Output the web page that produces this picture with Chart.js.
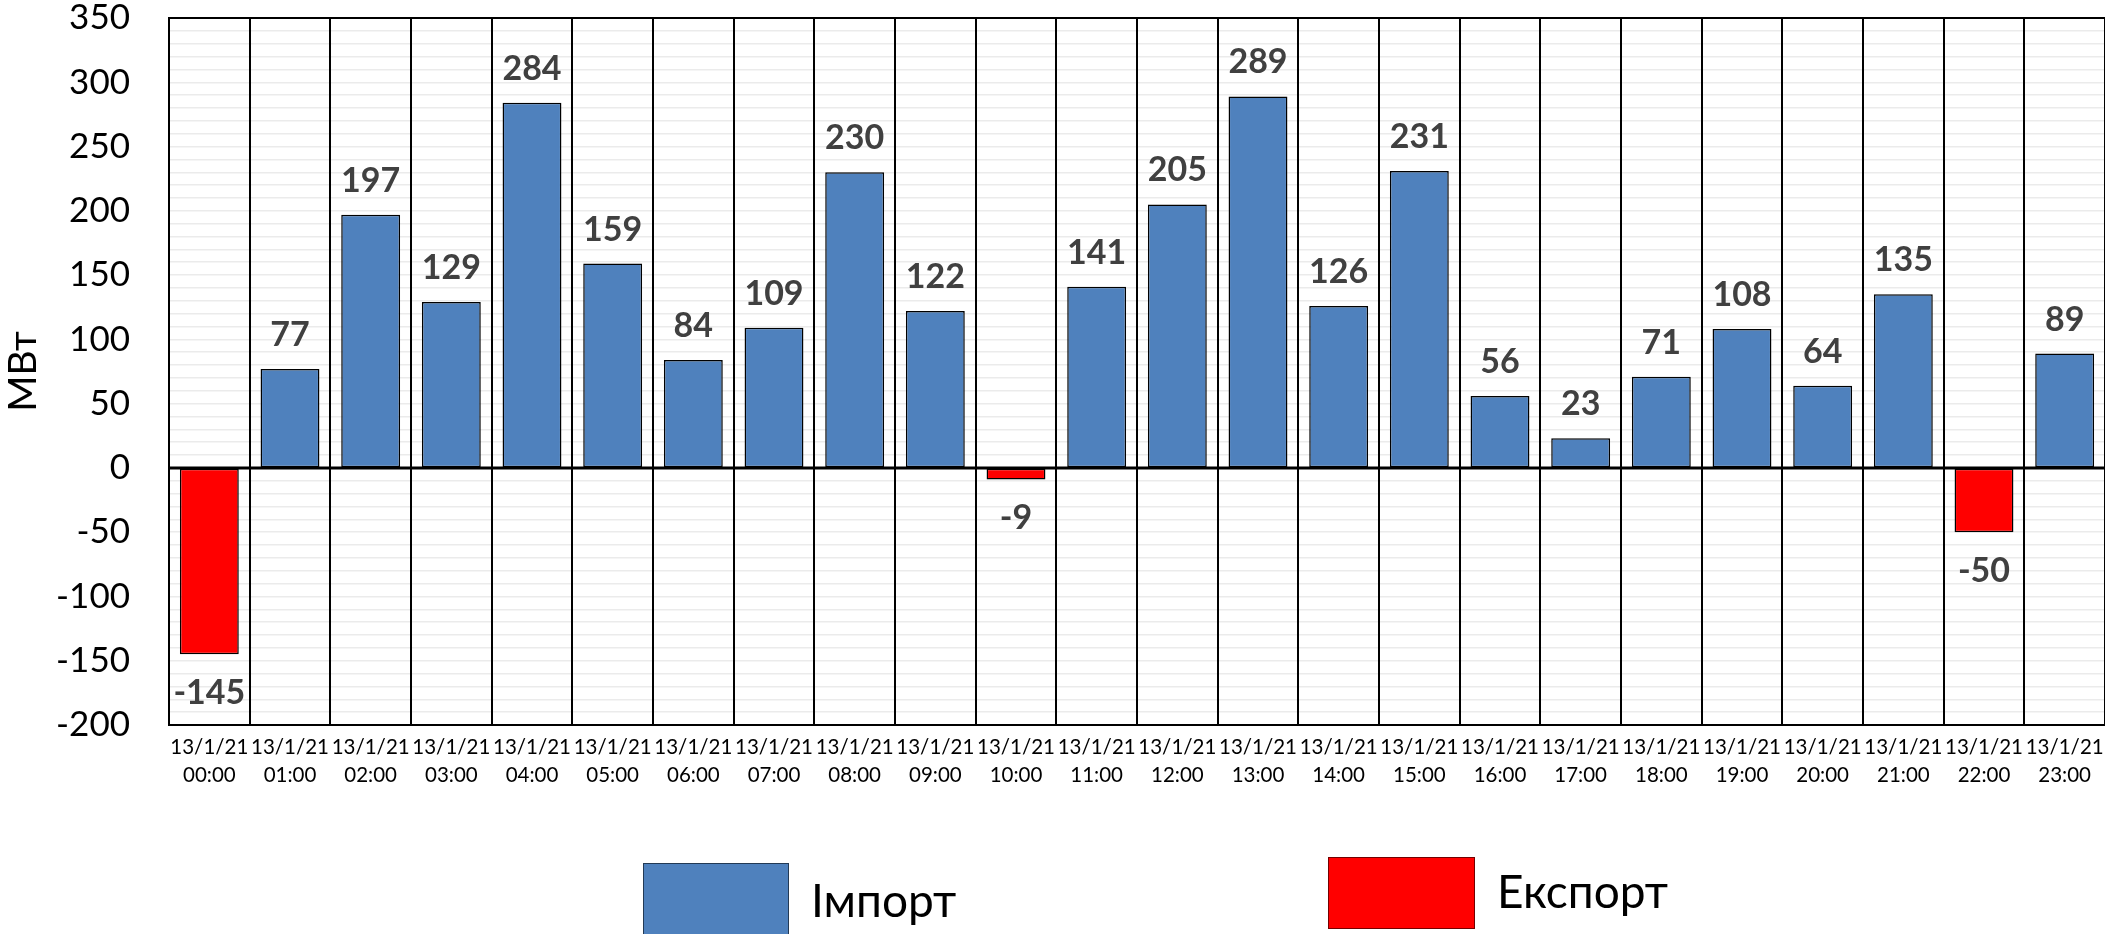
<!DOCTYPE html>
<html>
<head>
<meta charset="utf-8">
<script src="https://cdn.jsdelivr.net/npm/chart.js@4.4.1/dist/chart.umd.min.js"></script>
<style>
  html, body { margin: 0; padding: 0; background: #fff; }
</style>
</head>
<body>
<canvas id="flowChart" width="2105" height="934"></canvas>
<script>
// ========== DATA ==========
const dateLabel = "13/1/21";
const hours = ["00:00", "01:00", "02:00", "03:00", "04:00", "05:00", "06:00", "07:00",
  "08:00", "09:00", "10:00", "11:00", "12:00", "13:00", "14:00", "15:00",
  "16:00", "17:00", "18:00", "19:00", "20:00", "21:00", "22:00", "23:00"];
const importValues = [null, 77, 197, 129, 284, 159, 84, 109, 230, 122, null, 141,
  205, 289, 126, 231, 56, 23, 71, 108, 64, 135, null, 89];
const exportValues = [-145, null, null, null, null, null, null, null, null, null, -9, null,
  null, null, null, null, null, null, null, null, null, null, -50, null];
const yTicks = [-200, -150, -100, -50, 0, 50, 100, 150, 200, 250, 300, 350];

const FONT = "Lato, 'Open Sans', 'DejaVu Sans', sans-serif";

// ========== PLUGINS ==========
// zero line on top of bars + value labels
const valueLabels = {
  id: "valueLabels",
  afterDatasetsDraw(chart) {
    const ctx = chart.ctx;
    const area = chart.chartArea;
    const y0 = chart.scales.y.getPixelForValue(0);
    ctx.save();
    ctx.strokeStyle = "#000";
    ctx.lineWidth = 3;
    ctx.beginPath();
    ctx.moveTo(area.left, y0);
    ctx.lineTo(area.right, y0);
    ctx.stroke();

    ctx.font = "bold 34px " + FONT;
    ctx.fillStyle = "#404040";
    ctx.textAlign = "center";
    ctx.textBaseline = "alphabetic";
    chart.data.datasets.forEach((ds, i) => {
      const meta = chart.getDatasetMeta(i);
      meta.data.forEach((bar, j) => {
        const v = ds.data[j];
        if (v === null) return;
        const y = v >= 0 ? bar.y - 23 : bar.y + 50;
        ctx.fillText(String(v), bar.x, y);
      });
    });
    ctx.restore();
  }
};

// legend drawn below the axis
const bottomLegend = {
  id: "bottomLegend",
  afterDraw(chart) {
    const ctx = chart.ctx;
    const spots = [
      { x: 643, y: 863, w: 146, h: 74, ty: 902 },
      { x: 1328, y: 857, w: 147, h: 72, ty: 893 }
    ];
    ctx.save();
    ctx.font = "46px " + FONT;
    ctx.textAlign = "left";
    ctx.textBaseline = "middle";
    chart.data.datasets.forEach((ds, i) => {
      const s = spots[i];
      ctx.fillStyle = ds.backgroundColor;
      ctx.fillRect(s.x, s.y, s.w, s.h);
      ctx.strokeStyle = "rgba(0,0,0,0.55)";
      ctx.lineWidth = 1;
      ctx.strokeRect(s.x + 0.5, s.y + 0.5, s.w - 1, s.h - 1);
      ctx.fillStyle = "#000";
      ctx.fillText(ds.label, s.x + s.w + 22, s.ty);
    });
    ctx.restore();
  }
};

// ========== CHART ==========
const ctx = document.getElementById("flowChart");
const chart = new Chart(ctx, {
  type: "bar",
  data: {
    labels: hours.map((h) => [dateLabel, h]),
    datasets: [
      {
        label: "Імпорт",
        data: importValues,
        backgroundColor: "#4F81BD",
        borderColor: "#000",
        borderWidth: 1.5,
        borderSkipped: false
      },
      {
        label: "Експорт",
        data: exportValues,
        backgroundColor: "#FF0000",
        borderColor: "#000",
        borderWidth: 1.5,
        borderSkipped: false
      }
    ]
  },
  options: {
    responsive: false,
    animation: false,
    devicePixelRatio: 1,
    layout: { padding: 0 },
    datasets: {
      bar: { grouped: false, categoryPercentage: 1, barPercentage: 0.73 }
    },
    plugins: {
      legend: { display: false },
      tooltip: { enabled: false }
    },
    scales: {
      x: {
        grid: { offset: true, color: "#000", lineWidth: 2, drawTicks: false, z: -1 },
        border: { color: "#000", width: 2 },
        ticks: {
          autoSkip: false,
          maxRotation: 0,
          padding: 9,
          color: "#000",
          font: { family: FONT, size: 20.5, lineHeight: 1.33 }
        },
        afterFit: (axis) => {
          axis.height = 209;
          axis.paddingLeft = 0;
          axis.paddingRight = 0;
        }
      },
      y: {
        min: yTicks[0],
        max: yTicks[yTicks.length - 1],
        grid: {
          z: -2,
          drawTicks: false,
          color: (c) => (c.tick.value === yTicks[0] || c.tick.value === yTicks[yTicks.length - 1]) ? "#000" : "#ebebeb",
          lineWidth: (c) => (c.tick.value === yTicks[0] || c.tick.value === yTicks[yTicks.length - 1]) ? 2 : 1.5
        },
        border: { color: "#000", width: 2 },
        ticks: {
          stepSize: 10,
          autoSkip: false,
          padding: 39,
          color: "#000",
          font: { family: FONT, size: 35 },
          callback: (v) => (yTicks.includes(v) ? v : "")
        },
        title: {
          display: true,
          text: "МВт",
          color: "#000",
          padding: 0,
          font: { family: FONT, size: 39 }
        },
        afterFit: (axis) => {
          axis.width = 169;
          axis.paddingTop = 18;
          axis.paddingBottom = 0;
        }
      }
    }
  },
  plugins: [valueLabels, bottomLegend]
});
</script>
</body>
</html>
